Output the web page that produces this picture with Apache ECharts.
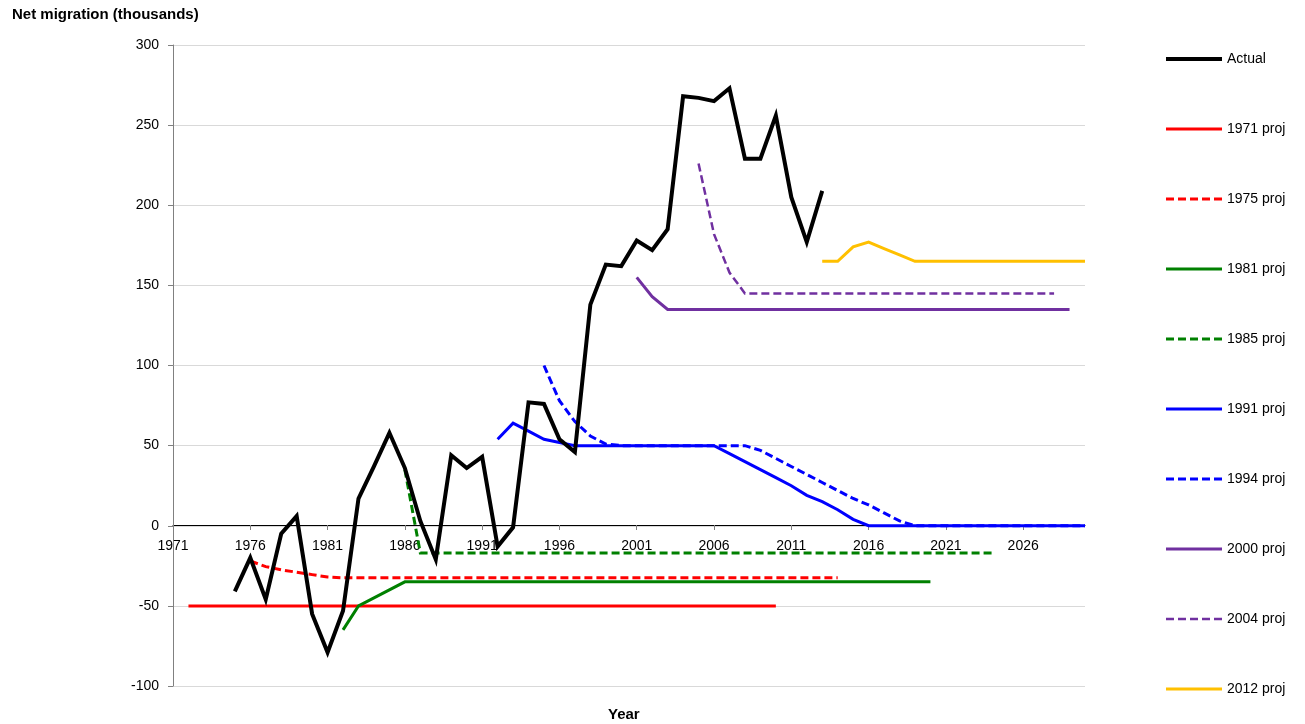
<!DOCTYPE html>
<html>
<head>
<meta charset="utf-8">
<script src="https://cdn.jsdelivr.net/npm/echarts@6/dist/echarts.min.js"></script>
<style>
  html, body { margin: 0; padding: 0; background: #fff; }
  #main { width: 1305px; height: 724px; }
</style>
</head>
<body>
<div id="main"></div>
<script>
// actual net migration, one value per year from 1975
var actualStart = 1975;
var actual = [-41, -20, -46, -5, 6, -55, -79, -53, 17, 37, 58, 36, 3, -21, 44, 36, 43, -13, -1, 77,
  76, 54, 46, 138, 163, 162, 178, 172, 185, 268, 267, 265, 273, 229, 229, 256, 205, 177, 209];

// projections: years where the line bends, and the value there
var p1971Years = [1972, 2010];
var p1971 = [-50, -50];
var p1975Years = [1976, 1977, 1978, 1979, 1980, 1981, 1982, 2014];
var p1975 = [-22, -25.5, -27.5, -29, -30.5, -32, -32.5, -32.5];
var p1981Years = [1982, 1983, 1986, 2020];
var p1981 = [-65, -50, -35, -35];
var p1985Years = [1986, 1987, 2024];
var p1985 = [35, -17, -17];
var p1991Years = [1992, 1993, 1994, 1995, 1996, 1997, 2006, 2007, 2008, 2009, 2010, 2011, 2012, 2013, 2014, 2015, 2016, 2030];
var p1991 = [54, 64, 59, 54, 52, 50, 50, 45, 40, 35, 30, 25, 19, 15, 10, 4, 0, 0];
var p1994Years = [1995, 1996, 1997, 1998, 1999, 2000, 2008, 2009, 2010, 2011, 2012, 2013, 2014, 2015, 2016, 2017, 2018, 2019, 2030];
var p1994 = [100, 78, 65, 56, 51, 50, 50, 47, 42, 37, 32, 27, 22, 17, 13, 8, 3, 0, 0];
var p2000Years = [2001, 2002, 2003, 2029];
var p2000 = [155, 143, 135, 135];
var p2004Years = [2005, 2006, 2007, 2008, 2028];
var p2004 = [226, 182, 158, 145, 145];
var p2012Years = [2013, 2014, 2015, 2016, 2017, 2018, 2019, 2030];
var p2012 = [165, 165, 174, 177, 173, 169, 165, 165];

var xTickYears = [1971, 1976, 1981, 1986, 1991, 1996, 2001, 2006, 2011, 2016, 2021, 2026];

function pairs(years, vals) {
  var out = [];
  for (var i = 0; i < vals.length; i++) out.push([years[i], vals[i]]);
  return out;
}
var actualYears = actual.map(function (v, i) { return actualStart + i; });

var legendItems = [];
function line(name, data, color, width, dashed, z) {
  legendItems.push({ name: name, lineStyle: { width: width } });
  return {
    name: name, type: 'line', data: data, symbol: 'none', z: z || 2,
    lineStyle: { color: color, width: width, type: dashed ? [8, 4] : 'solid', join: 'miter', cap: 'butt' },
    itemStyle: { color: color },
    emphasis: { disabled: true }
  };
}

var series = [
  line('Actual', pairs(actualYears, actual), '#000000', 4, false, 5),
  line('1971 proj', pairs(p1971Years, p1971), '#FF0000', 3, false),
  line('1975 proj', pairs(p1975Years, p1975), '#FF0000', 3, true),
  line('1981 proj', pairs(p1981Years, p1981), '#008000', 3, false),
  line('1985 proj', pairs(p1985Years, p1985), '#008000', 3, true),
  line('1991 proj', pairs(p1991Years, p1991), '#0000FF', 3, false, 3),
  line('1994 proj', pairs(p1994Years, p1994), '#0000FF', 3, true),
  line('2000 proj', pairs(p2000Years, p2000), '#7030A0', 3, false),
  line('2004 proj', pairs(p2004Years, p2004), '#7030A0', 2.5, true),
  line('2012 proj', pairs(p2012Years, p2012), '#FFC000', 3, false)
];

var chart = echarts.init(document.getElementById('main'));
var font = 'Liberation Sans, Arial, sans-serif';
chart.setOption({
  animation: false,
  textStyle: { fontFamily: font },
  grid: { left: 173, right: 220, top: 45, bottom: 38, containLabel: false },
  legend: {
    orient: 'vertical', left: 1164, top: 52, padding: 0,
    itemWidth: 56, itemHeight: 14, itemGap: 56,
    itemStyle: { opacity: 0 },
    data: legendItems,
    textStyle: { fontSize: 14, color: '#000', fontFamily: font },
    selectedMode: false
  },
  graphic: [
    { type: 'text', left: 12, top: 7, style: { text: 'Net migration (thousands)', font: 'bold 15px ' + font, fill: '#000' } },
    { type: 'text', left: 608, top: 707, style: { text: 'Year', font: 'bold 15px ' + font, fill: '#000' } }
  ],
  xAxis: {
    type: 'value', min: 1971, max: 2030, position: 'bottom', offset: -161,
    axisLine: { onZero: false, lineStyle: { color: '#000', width: 1 } },
    axisTick: { show: true, customValues: xTickYears, length: 5, lineStyle: { color: '#808080' } },
    axisLabel: { customValues: xTickYears, margin: 14, fontSize: 14, color: '#000', fontFamily: font,
      formatter: function (v) { return String(v); } },
    splitLine: { show: false }
  },
  yAxis: {
    type: 'value', min: -100, max: 300, interval: 50,
    axisLine: { show: true, lineStyle: { color: '#808080', width: 1 } },
    axisTick: { show: true, length: 5, lineStyle: { color: '#808080' } },
    axisLabel: { margin: 14, fontSize: 14, color: '#000', fontFamily: font },
    splitLine: { lineStyle: { color: '#D9D9D9', width: 1 } }
  },
  series: series
});
</script>
</body>
</html>
